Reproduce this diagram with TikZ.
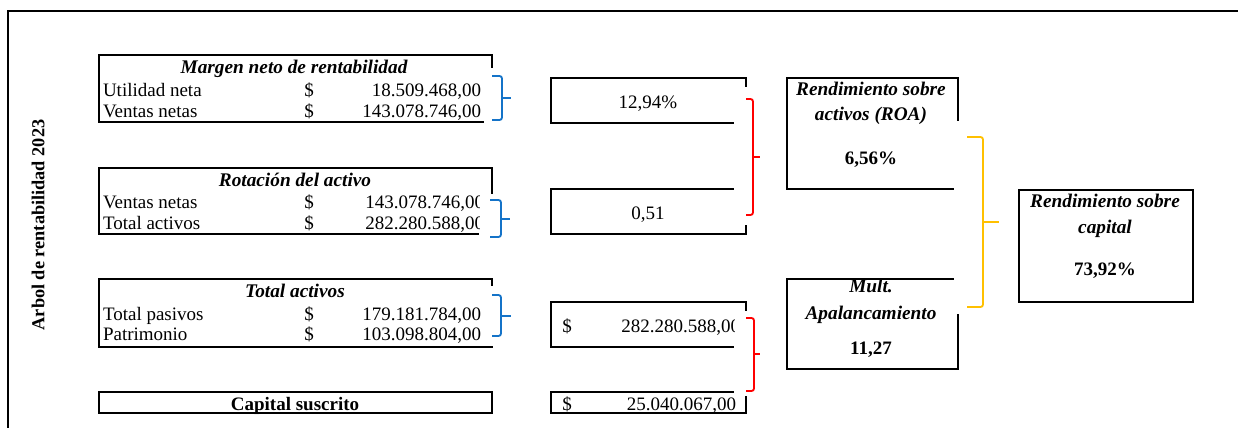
\documentclass[tikz,border=0pt]{standalone}
\usepackage{fontspec}
\setmainfont{Liberation Serif}
\usetikzlibrary{calc}
\definecolor{xlblue}{RGB}{20,115,200}
\definecolor{xlred}{RGB}{255,0,0}
\definecolor{xlgold}{RGB}{255,192,0}
\begin{document}
\begin{tikzpicture}[x=1pt,y=-1pt,
  txt/.style={font=\fontsize{19}{21}\selectfont, inner sep=0pt, outer sep=0pt},
  ttl/.style={font=\fontsize{19.3}{21}\selectfont\bfseries\itshape, inner sep=0pt, outer sep=0pt},
  bld/.style={font=\fontsize{19}{21}\selectfont\bfseries, inner sep=0pt, outer sep=0pt},
  cell/.style={draw=none, inner sep=0pt, outer sep=0pt, anchor=north west},
  border/.style={line width=1.8pt, black, line cap=rect},
  brk/.style={line width=1.8pt, rounded corners=2.5pt},
  frame/.style={line width=1.4pt, black},
]
\useasboundingbox (0,0) rectangle (1238,428);
% outer frame
\coordinate (fTR) at (1238,11);
\coordinate (fTL) at (8,11);
\coordinate (fBL) at (8,428);
\draw[frame] (fTR) -- (fTL) -- (fBL);
\node[bld, font=\fontsize{18.3}{20}\selectfont\bfseries, rotate=90] (title) at (38,225) {Arbol de rentabilidad 2023};

% ---------- left column boxes ----------
\node[cell, minimum width=393pt, minimum height=67pt] (A) at (99,55) {};
\draw[border] ($(A.north east)+(0,12)$) -- (A.north east) -- (A.north west) -- (A.south west) -- ($(A.south east)+(-9,0)$);
\node[ttl, anchor=base] (At) at (294,74) {Margen neto de rentabilidad};
\node[txt, anchor=base west] (A1l) at (103,96) {Utilidad neta};
\node[txt, anchor=base] (A1d) at (309,96) {\$};
\node[txt, anchor=base east] (A1v) at (481,96) {18.509.468,00};
\node[txt, anchor=base west] (A2l) at (103,117) {Ventas netas};
\node[txt, anchor=base] (A2d) at (309,117) {\$};
\node[txt, anchor=base east] (A2v) at (481,117) {143.078.746,00};

\node[cell, minimum width=393pt, minimum height=66pt] (B) at (99,168) {};
\draw[border] ($(B.north east)+(0,25)$) -- (B.north east) -- (B.north west) -- (B.south west) -- ($(B.south east)+(-14,0)$);
\node[ttl, anchor=base] (Bt) at (295,186) {Rotación del activo};
\node[txt, anchor=base west] (B1l) at (103,208) {Ventas netas};
\node[txt, anchor=base] (B1d) at (309,208) {\$};
\node[txt, anchor=base west] (B2l) at (103,229) {Total activos};
\node[txt, anchor=base] (B2d) at (309,229) {\$};
\begin{scope}
\clip (330,190) rectangle (479,233);
\node[txt, anchor=base east] (B1v) at (484,208) {143.078.746,00};
\node[txt, anchor=base east] (B2v) at (484,229) {282.280.588,00};
\end{scope}

\node[cell, minimum width=393pt, minimum height=68pt] (C) at (99,279) {};
\draw[border] ($(C.north east)+(0,6)$) -- (C.north east) -- (C.north west) -- (C.south west) -- (C.south east);
\node[ttl, anchor=base] (Ct) at (295,297) {Total activos};
\node[txt, anchor=base west] (C1l) at (103,320) {Total pasivos};
\node[txt, anchor=base] (C1d) at (309,320) {\$};
\node[txt, anchor=base east] (C1v) at (481,320) {179.181.784,00};
\node[txt, anchor=base west] (C2l) at (103,340) {Patrimonio};
\node[txt, anchor=base] (C2d) at (309,340) {\$};
\node[txt, anchor=base east] (C2v) at (481,340) {103.098.804,00};

\node[cell, minimum width=393pt, minimum height=21pt] (D) at (99,392) {};
\draw[border] (D.north west) rectangle (D.south east);
\node[bld, anchor=base] (Dt) at (295,410) {Capital suscrito};

% ---------- middle column ----------
\node[cell, minimum width=195pt, minimum height=45pt] (M1) at (551,78) {};
\draw[border] ($(M1.north east)+(0,8)$) -- (M1.north east) -- (M1.north west) -- (M1.south west) -- ($(M1.south east)+(-13,0)$);
\node[txt, anchor=base] (M1v) at (648,108) {12,94\%};

\node[cell, minimum width=195pt, minimum height=45pt] (M2) at (551,189) {};
\draw[border] ($(M2.north east)+(-13,0)$) -- (M2.north west) -- (M2.south west) -- (M2.south east) -- ($(M2.south east)+(0,-8)$);
\node[txt, anchor=base] (M2v) at (648,219) {0,51};

\node[cell, minimum width=195pt, minimum height=45pt] (M3) at (551,302) {};
\draw[border] ($(M3.north east)+(0,8)$) -- (M3.north east) -- (M3.north west) -- (M3.south west) -- ($(M3.south east)+(-13,0)$);
\node[txt, anchor=base] (M3d) at (567,332) {\$};
\begin{scope}
\clip (590,310) rectangle (734,340);
\node[txt, anchor=base east] (M3v) at (740,332) {282.280.588,00};
\end{scope}

\node[cell, minimum width=195pt, minimum height=21pt] (M4) at (551,392) {};
\draw[border] ($(M4.north east)+(-13,0)$) -- (M4.north west) -- (M4.south west) -- (M4.south east) -- ($(M4.south east)+(0,-16)$);
\node[txt, anchor=base] (M4d) at (567,410) {\$};
\node[txt, anchor=base east] (M4v) at (736,410) {25.040.067,00};

% ---------- right column ----------
\node[cell, minimum width=171pt, minimum height=111pt] (R1) at (787,78) {};
\draw[border] ($(R1.north east)+(0,42)$) -- (R1.north east) -- (R1.north west) -- (R1.south west) -- ($(R1.south east)+(-5,0)$);
\node[ttl, anchor=base] (R1a) at (871,95) {Rendimiento sobre};
\node[ttl, anchor=base] (R1b) at (871,120) {activos (ROA)};
\node[bld, anchor=base] (R1v) at (871,164) {6,56\%};

\node[cell, minimum width=171pt, minimum height=90pt] (R2) at (787,279) {};
\draw[border] ($(R2.north east)+(-5,0)$) -- (R2.north west) -- (R2.south west) -- (R2.south east) -- ($(R2.south east)+(0,-54)$);
\node[ttl, anchor=base] (R2a) at (871,292) {Mult.};
\node[ttl, anchor=base] (R2b) at (871,319) {Apalancamiento};
\node[bld, anchor=base] (R2v) at (871,354) {11,27};

\node[cell, minimum width=174pt, minimum height=112pt] (R3) at (1019,190) {};
\draw[border] (R3.north west) rectangle (R3.south east);
\node[ttl, anchor=base] (R3a) at (1105,207) {Rendimiento sobre};
\node[ttl, anchor=base] (R3b) at (1105,233) {capital};
\node[bld, anchor=base] (R3v) at (1105,275) {73,92\%};

% ---------- brackets ----------
% blue
\coordinate (bA1) at (492,76);  \coordinate (bA2) at (492,120); \coordinate (bAm) at (502,98);  \coordinate (bAt) at (511,98);
\draw[brk, xlblue] (bA1) -| (bAm) |- (bA2);
\draw[line width=1.8pt, xlblue] (bAm) -- (bAt);
\coordinate (bB1) at (490,200); \coordinate (bB2) at (490,237); \coordinate (bBm) at (501,219); \coordinate (bBt) at (510,219);
\draw[brk, xlblue] (bB1) -| (bBm) |- (bB2);
\draw[line width=1.8pt, xlblue] (bBm) -- (bBt);
\coordinate (bC1) at (492,295); \coordinate (bC2) at (492,336); \coordinate (bCm) at (501,316); \coordinate (bCt) at (511,316);
\draw[brk, xlblue] (bC1) -| (bCm) |- (bC2);
\draw[line width=1.8pt, xlblue] (bCm) -- (bCt);
% red
\coordinate (r11) at (746,99);  \coordinate (r12) at (746,215); \coordinate (r1m) at (753,157); \coordinate (r1t) at (760,157);
\draw[brk, xlred] (r11) -| (r1m) |- (r12);
\draw[line width=1.8pt, xlred] (r1m) -- (r1t);
\coordinate (r21) at (746,318); \coordinate (r22) at (746,391); \coordinate (r2m) at (754,354); \coordinate (r2t) at (760,354);
\draw[brk, xlred] (r21) -| (r2m) |- (r22);
\draw[line width=1.8pt, xlred] (r2m) -- (r2t);
% gold
\coordinate (y1) at (967,137); \coordinate (y2) at (967,307); \coordinate (ym) at (983,222); \coordinate (yt) at (999,222);
\draw[brk, xlgold] (y1) -| (ym) |- (y2);
\draw[line width=1.8pt, xlgold] (ym) -- (yt);
\end{tikzpicture}
\end{document}
